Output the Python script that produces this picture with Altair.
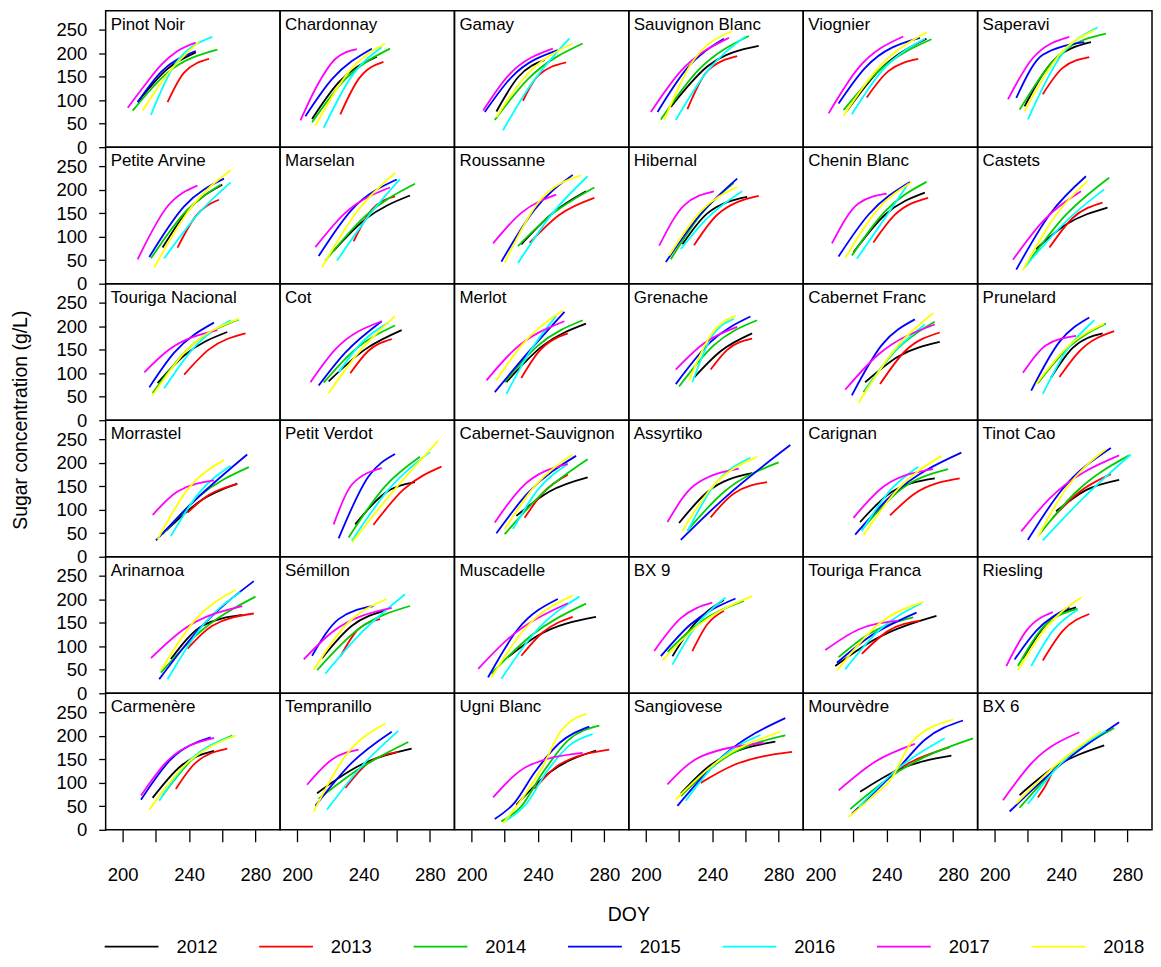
import altair as alt
import pandas as pd

FONT = "Liberation Sans"

years = ["2012", "2013", "2014", "2015", "2016", "2017", "2018"]
year_colors = ["#000000", "#FF0000", "#00CD00", "#0000FF", "#00FFFF", "#FF00FF", "#FFFF00"]

varieties = [
    "Pinot Noir", "Chardonnay", "Gamay", "Sauvignon Blanc", "Viognier", "Saperavi",
    "Petite Arvine", "Marselan", "Roussanne", "Hibernal", "Chenin Blanc", "Castets",
    "Touriga Nacional", "Cot", "Merlot", "Grenache", "Cabernet Franc", "Prunelard",
    "Morrastel", "Petit Verdot", "Cabernet-Sauvignon", "Assyrtiko", "Carignan", "Tinot Cao",
    "Arinarnoa", "Sémillon", "Muscadelle", "BX 9", "Touriga Franca", "Riesling",
    "Carmenère", "Tempranillo", "Ugni Blanc", "Sangiovese", "Mourvèdre", "BX 6",
]

x_title = "DOY"
y_title = "Sugar concentration (g/L)"

# each variety: one curve per year (2012..2018), curve = [(DOY, sugar g/L), ...]
pinot_noir = [
    [(209, 96), (227, 167), (244, 202)],
    [(227, 96), (237, 159), (252, 188)],
    [(206, 78), (227, 159), (257, 208)],
    [(209, 96), (223, 160), (244, 205)],
    [(217, 69), (231, 174), (254, 235)],
    [(203, 84), (213, 131), (223, 175), (233, 205), (244, 223)],
    [(212, 78), (227, 156), (246, 225)],
]
chardonnay = [
    [(209, 60), (225, 138), (248, 193)],
    [(226, 70), (237, 145), (252, 182)],
    [(209, 53), (229, 145), (256, 210)],
    [(205, 66), (221, 145), (245, 210)],
    [(216, 41), (233, 152), (251, 213)],
    [(202, 57), (212, 131), (223, 188), (236, 209)],
    [(211, 46), (231, 160), (253, 221)],
]
gamay = [
    [(215, 76), (228, 149), (244, 186)],
    [(231, 99), (240, 152), (257, 181)],
    [(214, 58), (234, 145), (267, 221)],
    [(208, 75), (224, 149), (252, 207)],
    [(219, 36), (234, 124), (259, 232)],
    [(207, 78), (222, 152), (249, 210)],
    [(215, 64), (232, 149), (261, 221)],
]
sauvignon_blanc = [
    [(215, 86), (237, 172), (268, 216)],
    [(225, 81), (237, 162), (255, 194)],
    [(209, 59), (231, 162), (262, 237)],
    [(207, 75), (225, 169), (247, 231)],
    [(218, 58), (237, 162), (260, 236)],
    [(203, 75), (221, 162), (250, 233)],
    [(211, 58), (227, 176), (252, 247)],
]
viognier = [
    [(216, 77), (235, 162), (264, 231)],
    [(228, 106), (241, 162), (259, 188)],
    [(214, 79), (235, 162), (267, 230)],
    [(211, 93), (227, 169), (260, 233)],
    [(219, 70), (237, 162), (263, 231)],
    [(205, 72), (223, 169), (250, 236)],
    [(214, 67), (235, 169), (264, 245)],
]
saperavi = [
    [(218, 87), (235, 183), (258, 224)],
    [(229, 113), (241, 169), (257, 192)],
    [(215, 80), (239, 197), (267, 242)],
    [(213, 105), (229, 197), (254, 224)],
    [(220, 59), (239, 190), (262, 255)],
    [(208, 102), (223, 190), (245, 235)],
    [(218, 77), (239, 197), (260, 249)],
]
petite_arvine = [
    [(224, 77), (239, 155), (260, 211)],
    [(233, 77), (244, 144), (258, 179)],
    [(217, 54), (239, 158), (259, 211)],
    [(216, 57), (237, 165), (261, 224)],
    [(225, 54), (246, 151), (265, 216)],
    [(209, 52), (227, 165), (245, 209)],
    [(219, 35), (241, 162), (265, 242)],
]
marselan = [
    [(222, 70), (241, 137), (268, 188)],
    [(234, 90), (245, 158), (259, 186)],
    [(217, 49), (241, 144), (271, 213)],
    [(213, 59), (233, 158), (260, 222)],
    [(224, 49), (243, 144), (262, 223)],
    [(211, 78), (229, 151), (256, 205)],
    [(215, 35), (237, 158), (259, 236)],
]
roussanne = [
    [(230, 84), (249, 151), (269, 197)],
    [(235, 87), (253, 147), (274, 183)],
    [(228, 80), (247, 144), (274, 205)],
    [(218, 47), (238, 158), (261, 232)],
    [(228, 44), (249, 151), (270, 229)],
    [(213, 86), (230, 151), (251, 190)],
    [(220, 45), (240, 172), (266, 231)],
]
hibernal = [
    [(222, 84), (237, 150), (261, 185)],
    [(229, 82), (243, 147), (268, 187)],
    [(215, 52), (233, 147), (253, 215)],
    [(212, 46), (231, 140), (255, 224)],
    [(221, 74), (237, 140), (258, 197)],
    [(208, 81), (223, 167), (241, 197)],
    [(214, 60), (233, 154), (255, 206)],
]
chenin_blanc = [
    [(220, 67), (239, 147), (263, 194)],
    [(232, 88), (245, 147), (265, 183)],
    [(219, 60), (239, 154), (264, 217)],
    [(211, 58), (229, 147), (254, 217)],
    [(222, 53), (239, 140), (253, 213)],
    [(207, 86), (223, 171), (240, 192)],
    [(215, 55), (235, 160), (255, 216)],
]
castets = [
    [(225, 74), (243, 126), (268, 162)],
    [(233, 77), (247, 140), (265, 173)],
    [(218, 35), (243, 147), (269, 226)],
    [(213, 30), (233, 147), (255, 229)],
    [(219, 39), (243, 133), (266, 201)],
    [(211, 51), (229, 133), (252, 197)],
    [(217, 29), (237, 147), (256, 219)],
]
touriga_nacional = [
    [(221, 79), (237, 138), (263, 188)],
    [(237, 97), (252, 151), (274, 185)],
    [(218, 58), (239, 151), (270, 215)],
    [(216, 70), (231, 144), (255, 208)],
    [(225, 68), (244, 159), (265, 213)],
    [(213, 102), (227, 148), (257, 192)],
    [(218, 53), (239, 151), (270, 216)],
]
cot = [
    [(219, 83), (241, 151), (263, 192)],
    [(232, 100), (243, 148), (257, 173)],
    [(216, 80), (235, 151), (259, 202)],
    [(213, 74), (229, 144), (251, 211)],
    [(225, 102), (239, 166), (255, 208)],
    [(208, 81), (223, 151), (251, 211)],
    [(219, 58), (237, 144), (259, 222)],
]
merlot = [
    [(221, 81), (243, 159), (269, 206)],
    [(230, 90), (240, 144), (258, 185)],
    [(220, 81), (240, 159), (267, 213)],
    [(214, 60), (234, 144), (256, 231)],
    [(221, 56), (236, 151), (251, 222)],
    [(209, 85), (226, 151), (256, 211)],
    [(215, 85), (230, 159), (255, 234)],
]
grenache = [
    [(229, 91), (245, 147), (264, 185)],
    [(239, 108), (249, 150), (264, 174)],
    [(220, 72), (241, 160), (267, 213)],
    [(218, 77), (239, 167), (263, 221)],
    [(228, 81), (239, 174), (253, 216)],
    [(218, 108), (235, 164), (255, 199)],
    [(226, 84), (239, 181), (254, 223)],
]
cabernet_franc = [
    [(227, 81), (247, 136), (272, 167)],
    [(236, 77), (251, 147), (272, 187)],
    [(226, 60), (247, 154), (269, 210)],
    [(219, 53), (237, 160), (257, 215)],
    [(227, 63), (243, 140), (263, 204)],
    [(215, 65), (235, 140), (269, 204)],
    [(223, 37), (247, 160), (268, 228)],
]
prunelard = [
    [(234, 91), (247, 154), (265, 185)],
    [(239, 92), (251, 147), (272, 190)],
    [(226, 79), (245, 157), (267, 206)],
    [(222, 63), (239, 167), (257, 219)],
    [(229, 56), (243, 147), (260, 213)],
    [(217, 101), (231, 160), (249, 180)],
    [(225, 77), (245, 160), (266, 206)],
]
morrastel = [
    [(226, 55), (248, 122), (269, 156)],
    [(239, 94), (252, 132), (269, 155)],
    [(224, 48), (246, 129), (276, 191)],
    [(220, 35), (244, 122), (275, 218)],
    [(229, 44), (246, 136), (265, 194)],
    [(218, 89), (233, 139), (255, 163)],
    [(221, 37), (239, 143), (261, 206)],
]
petit_verdot = [
    [(235, 69), (253, 136), (271, 159)],
    [(246, 68), (264, 143), (287, 192)],
    [(231, 41), (253, 150), (274, 213)],
    [(225, 39), (243, 171), (259, 219)],
    [(233, 34), (255, 143), (280, 223)],
    [(222, 69), (233, 154), (251, 189)],
    [(233, 30), (257, 136), (285, 247)],
]
cabernet_sauvignon = [
    [(227, 87), (247, 139), (270, 169)],
    [(232, 83), (243, 136), (258, 175)],
    [(220, 48), (243, 136), (270, 208)],
    [(215, 50), (234, 136), (263, 215)],
    [(225, 59), (240, 143), (258, 197)],
    [(214, 73), (230, 147), (258, 198)],
    [(220, 59), (238, 150), (261, 218)],
]
assyrtiko = [
    [(220, 72), (237, 138), (264, 178)],
    [(239, 84), (253, 135), (273, 159)],
    [(225, 56), (247, 138), (280, 201)],
    [(221, 36), (247, 124), (287, 238)],
    [(225, 54), (241, 152), (263, 211)],
    [(213, 74), (229, 152), (256, 188)],
    [(222, 55), (239, 145), (267, 213)],
]
carignan = [
    [(224, 74), (243, 138), (269, 167)],
    [(242, 88), (257, 135), (284, 167)],
    [(225, 58), (249, 145), (277, 187)],
    [(221, 47), (243, 131), (285, 222)],
    [(225, 55), (243, 145), (259, 192)],
    [(220, 83), (239, 152), (268, 187)],
    [(226, 46), (247, 145), (273, 215)],
]
tinot_cao = [
    [(237, 97), (255, 142), (275, 164)],
    [(235, 83), (251, 138), (270, 176)],
    [(227, 48), (249, 138), (281, 216)],
    [(220, 36), (241, 145), (270, 232)],
    [(229, 35), (253, 124), (282, 218)],
    [(216, 54), (233, 124), (275, 216)],
    [(226, 42), (243, 145), (267, 229)],
]
arinarnoa = [
    [(229, 73), (248, 144), (272, 167)],
    [(239, 95), (254, 144), (279, 170)],
    [(223, 44), (244, 123), (280, 206)],
    [(222, 30), (246, 137), (279, 239)],
    [(227, 30), (248, 144), (271, 216)],
    [(217, 75), (237, 137), (272, 186)],
    [(223, 49), (244, 158), (268, 220)],
]
semillon = [
    [(215, 75), (233, 144), (253, 176)],
    [(226, 78), (237, 137), (250, 158)],
    [(212, 49), (237, 137), (268, 186)],
    [(209, 80), (225, 158), (246, 186)],
    [(217, 42), (237, 123), (265, 211)],
    [(204, 72), (221, 130), (257, 182)],
    [(210, 50), (229, 144), (254, 201)],
]
muscadelle = [
    [(222, 77), (240, 123), (275, 163)],
    [(230, 80), (243, 130), (261, 163)],
    [(212, 42), (236, 123), (269, 191)],
    [(210, 34), (228, 137), (252, 201)],
    [(218, 31), (240, 137), (265, 206)],
    [(204, 52), (222, 116), (258, 192)],
    [(212, 34), (232, 137), (261, 208)],
]
bx_9 = [
    [(216, 79), (229, 147), (247, 199)],
    [(228, 90), (237, 147), (247, 176)],
    [(213, 88), (231, 147), (259, 197)],
    [(209, 79), (227, 147), (254, 202)],
    [(216, 61), (231, 147), (248, 204)],
    [(205, 90), (221, 160), (240, 193)],
    [(210, 70), (231, 143), (264, 207)],
]
touriga_franca = [
    [(209, 58), (233, 115), (270, 165)],
    [(225, 84), (241, 133), (260, 155)],
    [(211, 77), (229, 126), (256, 162)],
    [(210, 65), (229, 119), (258, 172)],
    [(215, 51), (235, 133), (261, 192)],
    [(203, 92), (223, 136), (247, 155)],
    [(210, 48), (235, 147), (262, 195)],
]
riesling = [
    [(217, 74), (231, 147), (249, 183)],
    [(229, 70), (241, 133), (257, 169)],
    [(214, 58), (229, 140), (250, 180)],
    [(212, 72), (225, 133), (245, 183)],
    [(222, 58), (235, 133), (250, 178)],
    [(207, 58), (219, 133), (235, 173)],
    [(214, 49), (231, 140), (252, 204)],
]
carmenere = [
    [(218, 68), (235, 136), (255, 168)],
    [(232, 87), (244, 143), (263, 173)],
    [(224, 73), (241, 147), (266, 201)],
    [(211, 64), (229, 150), (253, 197)],
    [(222, 62), (239, 143), (266, 199)],
    [(211, 73), (227, 147), (255, 196)],
    [(216, 43), (237, 136), (268, 201)],
]
tempranillo = [
    [(212, 78), (237, 136), (269, 173)],
    [(229, 89), (243, 143), (261, 166)],
    [(213, 66), (237, 129), (267, 187)],
    [(211, 51), (233, 143), (257, 209)],
    [(218, 43), (239, 136), (261, 211)],
    [(206, 96), (221, 150), (237, 171)],
    [(210, 39), (229, 157), (253, 226)],
]
ugni_blanc = [
    [(227, 53), (247, 122), (275, 169)],
    [(238, 87), (253, 139), (283, 171)],
    [(218, 18), (230, 50), (243, 122), (258, 190), (277, 222)],
    [(214, 23), (226, 58), (238, 122), (253, 185), (271, 220)],
    [(221, 20), (233, 55), (245, 122), (259, 180), (273, 204)],
    [(213, 69), (234, 136), (267, 164)],
    [(219, 14), (231, 69), (243, 136), (253, 206), (269, 247)],
]
sangiovese = [
    [(221, 77), (239, 138), (278, 188)],
    [(233, 100), (253, 138), (288, 166)],
    [(221, 72), (247, 152), (284, 201)],
    [(219, 51), (247, 159), (284, 238)],
    [(224, 62), (245, 152), (269, 202)],
    [(213, 97), (233, 156), (271, 185)],
    [(218, 65), (243, 145), (281, 209)],
]
mourvedre = [
    [(224, 81), (247, 128), (279, 158)],
    [(243, 121), (255, 145), (278, 176)],
    [(218, 44), (247, 124), (292, 195)],
    [(219, 34), (247, 131), (263, 192), (286, 233)],
    [(223, 48), (247, 131), (275, 195)],
    [(211, 84), (233, 145), (257, 183)],
    [(217, 27), (231, 69), (243, 110), (255, 187), (280, 235)],
]
bx_6 = [
    [(215, 74), (235, 131), (266, 180)],
    [(226, 69), (230, 90), (234, 117)],
    [(215, 47), (239, 138), (272, 217)],
    [(209, 39), (237, 131), (275, 229)],
    [(220, 55), (239, 138), (267, 211)],
    [(205, 63), (223, 145), (251, 208)],
    [(213, 56), (237, 138), (264, 210)],
]

curves = [
    pinot_noir, chardonnay, gamay, sauvignon_blanc, viognier, saperavi,
    petite_arvine, marselan, roussanne, hibernal, chenin_blanc, castets,
    touriga_nacional, cot, merlot, grenache, cabernet_franc, prunelard,
    morrastel, petit_verdot, cabernet_sauvignon, assyrtiko, carignan, tinot_cao,
    arinarnoa, semillon, muscadelle, bx_9, touriga_franca, riesling,
    carmenere, tempranillo, ugni_blanc, sangiovese, mourvedre, bx_6,
]

x_ticks = [200, 220, 240, 260, 280]
y_ticks = [0, 50, 100, 150, 200, 250]

rows = []
for variety, vcurves in zip(varieties, curves):
    first = True
    for year, pts in zip(years, vcurves):
        for doy, sugar in pts:
            rows.append({"variety": variety, "year": year, "doy": doy,
                         "sugar": sugar, "first": first})
            first = False
df = pd.DataFrame(rows)

PW, PH = 175, 137

base = alt.Chart(df)

lines = base.mark_line(strokeWidth=1.8, interpolate="monotone").encode(
    x=alt.X("doy:Q",
            scale=alt.Scale(domain=[189.7, 294.8], nice=False, zero=False),
            axis=alt.Axis(values=x_ticks, title=None,
                          labelExpr="datum.value % 40 == 0 ? datum.label : ''",
                          tickSize=12, labelPadding=24,
                          labelOverlap=False, labelFlush=False)),
    y=alt.Y("sugar:Q",
            scale=alt.Scale(domain=[0, 291], nice=False, zero=False),
            axis=alt.Axis(values=y_ticks, title=None,
                          tickSize=7, labelPadding=12,
                          labelOverlap=False, labelFlush=False)),
    color=alt.Color("year:N", scale=alt.Scale(domain=years, range=year_colors),
                    legend=alt.Legend(title=None, orient="none", direction="horizontal",
                                      legendX=-2, legendY=911,
                                      symbolType="stroke", symbolSize=2916,
                                      symbolStrokeWidth=1.6, labelFontSize=18.5,
                                      labelFont=FONT, labelOffset=17,
                                      columnPadding=37, labelColor="black")),
)

labels = base.transform_filter("datum.first").mark_text(
    align="left", baseline="alphabetic", fontSize=17, font=FONT, color="black"
).encode(x=alt.value(5), y=alt.value(19), text="variety:N")

ytitle = base.transform_filter("datum.first && datum.variety == 'Morrastel'").mark_text(
    align="center", baseline="middle", angle=270, fontSize=19.5, font=FONT, color="black"
).encode(x=alt.value(-85), y=alt.value(0), text=alt.value(y_title))

xtitle = base.transform_filter("datum.first && datum.variety == 'Sangiovese'").mark_text(
    align="center", baseline="middle", fontSize=19.5, font=FONT, color="black"
).encode(x=alt.value(0), y=alt.value(PH + 86), text=alt.value(x_title))

chart = alt.layer(lines, labels, ytitle, xtitle).properties(width=PW, height=PH).facet(
    facet=alt.Facet("variety:N", sort=varieties,
                     header=alt.Header(labels=False, labelExpr="''", labelFontSize=0,
                                       labelPadding=0, title=None)),
    columns=6, spacing=0, bounds="flush",
).properties(
    padding={"left": 2, "top": 0, "right": 0, "bottom": 0},
    background="white",
).configure_view(
    stroke="black", strokeWidth=1.5
).configure_header(
    labels=False
).configure_axis(
    domain=False, grid=False, tickColor="black", tickWidth=1.3,
    labelColor="black", titleColor="black", labelFont=FONT, titleFont=FONT,
    labelFontSize=18.5, titleFontSize=19.5, titleFontWeight="normal",
)

chart.save("out.html", embed_options={"renderer": "svg", "actions": False})
